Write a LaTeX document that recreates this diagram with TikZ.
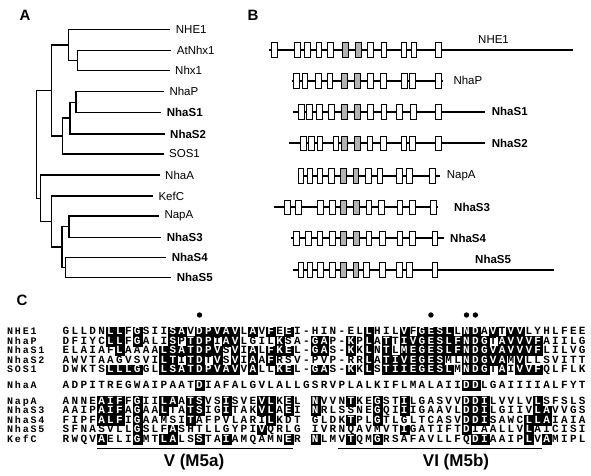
\documentclass[tikz,border=0pt]{standalone}
\usepackage{fontspec}
\setmainfont{Liberation Sans}
\setmonofont{Liberation Mono}
\usetikzlibrary{positioning}

% one aligned residue; lower case = white letter on black
\makeatletter
\newcount\rescol
\newcommand\alnres[1]{%
  \ifnum`#1>96
    \uppercase{\gdef\ucres{#1}}%
    \node[rescell,fill=black,draw=black,line width=.2pt,text=white] (\alnname-\the\rescol) at ({57.1+8.9*\the\rescol},\alny) {\ucres};%
  \else\if.#1\else
    \node[rescell] (\alnname-\the\rescol) at ({57.1+8.9*\the\rescol},\alny) {#1};%
  \fi\fi}
\newcommand\alnrow[3]{\def\alnname{#1}\def\alny{#2}\rescol=0
  \@tfor\res:=#3\do{\advance\rescol by 1 \expandafter\alnres\expandafter{\res}}}
\makeatother

% one topology row of panel B
\newcommand\tmrow[6]{%
  \draw[tmline] (#3,#2) -- (#4,#2);
  \foreach \bx [count=\k] in {#5} \node[tmbox] (#1w\k) at (\bx,#2) {};
  \foreach \bx [count=\k] in {#6} \node[tmbox,fill=gray!60] (#1g\k) at (\bx,#2) {};}

\begin{document}
\begin{tikzpicture}[x=1pt,y=-1pt,
    br/.style={line width=1.3pt},
    leaf/.style={anchor=west,inner sep=0pt,font=\fontsize{11.5}{12}\selectfont},
    bleaf/.style={leaf,font=\fontsize{11.5}{12}\selectfont\bfseries},
    panel/.style={font=\fontsize{15}{15}\selectfont\bfseries,inner sep=0pt},
    tmline/.style={line width=2pt},
    tmbox/.style={draw=black,line width=.9pt,fill=white,minimum width=5.8pt,minimum height=14.7pt,inner sep=0pt},
    rescell/.style={minimum width=8.9pt,minimum height=9.5pt,inner sep=0pt,text height=6.5pt,text depth=0pt,
      font=\ttfamily\bfseries\fontsize{11}{11}\selectfont},
    seqname/.style={anchor=west,inner sep=0pt,text height=6.5pt,text depth=0pt,
      font=\ttfamily\bfseries\fontsize{10}{10}\selectfont\addfontfeature{LetterSpace=18}},
    motif/.style={font=\fontsize{17}{17}\selectfont\bfseries,inner sep=0pt}]
\useasboundingbox (0,0) rectangle (591,476);

% panel letters
\node[panel] (pA) at (25,15) {A};
\node[panel] (pB) at (253,15) {B};
\node[panel] (pC) at (22,300) {C};

% A: tree
\node[leaf] (tNHE1) at (175.7,29.3) {NHE1};
\node[leaf] (tAtNhx1) at (176.7,50.7) {AtNhx1};
\node[leaf] (tNhx1) at (175,70.7) {Nhx1};
\node[leaf] (tNhaP) at (169.3,91.7) {NhaP};
\node[bleaf] (tNhaS1) at (166.7,112.7) {NhaS1};
\node[bleaf] (tNhaS2) at (170,134) {NhaS2};
\node[leaf] (tSOS1) at (169,154) {SOS1};
\node[leaf] (tNhaA) at (165,175) {NhaA};
\node[leaf] (tKefC) at (158.3,196) {KefC};
\node[leaf] (tNapA) at (164.3,216) {NapA};
\node[bleaf] (tNhaS3) at (166.7,237.3) {NhaS3};
\node[bleaf] (tNhaS4) at (171.7,257.3) {NhaS4};
\node[bleaf] (tNhaS5) at (176.7,277.7) {NhaS5};
\coordinate (iAt) at (77.3,60.7);
\coordinate (iNhe) at (68.3,45);
\coordinate (iP1) at (76,102.2);
\coordinate (iP2) at (70,118.1);
\coordinate (iP3) at (62.3,136);
\coordinate (iUp) at (51.7,90.5);
\coordinate (iNap) at (69,226.7);
\coordinate (iS45) at (65.7,267.5);
\coordinate (iE) at (62,247.1);
\coordinate (iKef) at (51.7,221.5);
\coordinate (iLow) at (40.7,198.3);
\coordinate (iRoot) at (36.7,144.4);
\draw[br] ([xshift=-5.5pt]tAtNhx1.west) -| (iAt) |- ([xshift=-5.5pt]tNhx1.west);
\draw[br] ([xshift=-5.5pt]tNHE1.west) -| (iNhe) |- (iAt);
\draw[br] ([xshift=-5.5pt]tNhaP.west) -| (iP1) |- ([xshift=-5.5pt]tNhaS1.west);
\draw[br] (iP1) -| (iP2) |- ([xshift=-5.5pt]tNhaS2.west);
\draw[br] (iP2) -| (iP3) |- ([xshift=-5.5pt]tSOS1.west);
\draw[br] (iNhe) -| (iUp) |- (iP3);
\draw[br] ([xshift=-5.5pt]tNapA.west) -| (iNap) |- ([xshift=-5.5pt]tNhaS3.west);
\draw[br] ([xshift=-5.5pt]tNhaS4.west) -| (iS45) |- ([xshift=-5.5pt]tNhaS5.west);
\draw[br] (iNap) -| (iE) |- (iS45);
\draw[br] ([xshift=-5.5pt]tKefC.west) -| (iKef) |- (iE);
\draw[br] ([xshift=-5.5pt]tNhaA.west) -| (iLow) |- (iKef);
\draw[br] (iUp) -| (iRoot) |- (iLow);

% B: membrane topology
\tmrow{bNHE1}{50}{269.3}{572.7}{274.7,297.3,307.3,319,330.7,370.7,384,404,414,438.7}{345.3,358.7}
\tmrow{bNhaP}{80.7}{291.7}{443}{296.7,305,318.3,330,370.7,383.3,404.3,412.7,438.3}{344.3,357.7}
\tmrow{bNhaS1}{111.7}{293.3}{485}{301.7,309.3,319.3,331.7,370.7,384,399.3,413.3,438.3}{344.3,357.7}
\tmrow{bNhaS2}{143.3}{289.3}{485}{303.3,311.7,320,336,370,383.3,404,412.7,438.3}{344.3,357.7}
\tmrow{bNapA}{176}{298.3}{440}{301,310,320,331.7,368.3,380,399.3,409.3,432.7}{343.3,356}
\tmrow{bNhaS3}{207.3}{274}{438.3}{287.3,298.3,320.7,332.7,369,381.7,400,412.7,433.3}{343.3,356.7}
\tmrow{bNhaS4}{238.3}{290.7}{444}{296.7,308.3,320,332.7,369,382.7,400,412.7,435}{343.3,356.7}
\tmrow{bNhaS5}{270}{293.3}{554}{301,310,320.7,332.7,366.7,382.7,399.3,409.3,435}{343.3,356}
\node[leaf] (lNHE1) at (478,39.3) {NHE1};
\node[leaf] (lNhaP) at (453.3,80.7) {NhaP};
\node[bleaf] (lNhaS1) at (491.7,111.7) {NhaS1};
\node[bleaf] (lNhaS2) at (491.7,143.3) {NhaS2};
\node[leaf] (lNapA) at (446.7,176) {NapA};
\node[bleaf] (lNhaS3) at (454,207.3) {NhaS3};
\node[bleaf] (lNhaS4) at (450,238.3) {NhaS4};
\node[bleaf] (lNhaS5) at (475,259.3) {NhaS5};

% C: alignment
\foreach \nm/\yy [count=\i] in {NHE1/331.5,NhaP/341,NhaS1/350.5,NhaS2/360,SOS1/369.5,NhaA/385,
    NapA/401,NhaS3/410.5,NhaS4/420,NhaS5/429.5,KefC/439}
  \node[seqname] (name\i) at (7,\yy) {\nm};
\alnrow{nhe}{331.5}{GLLDNllFgSIIsaVdpvavLaVfEeI-HIN-ELlHILvFgeslLndAvTvvLYHLFEE}
\alnrow{nhap}{341}{DFIYCllFgALIsPtdpIavLGILkSA-gaP-kPlAtTivgeslfndgTavvvfAIILG}
\alnrow{sa}{350.5}{ELAIAFlAAAAlsatdpvSvIaLfkeL-gaS-kKlNtLmegeslfndgvavvvfLILVG}
\alnrow{sb}{360}{AWVTAAGVSVIltItdTvSvIaAfRSV-PVP-RRlAtivegesMLndgvaMvLLSVITT}
\alnrow{sos}{369.5}{DWKTSlllgGLlsatdpvavVaLLkeL-gaS-kKlStiiegeslMndgTaIvvfQLFLK}
\alnrow{nhaa}{385}{ADPITREGWAIPAATdIAFALGVLALLGSRVPLALKIFLMALAIIddLGAIIIIALFYT}
\alnrow{napa}{401}{ANNEaifFgIIlaAtsVSiSVEvlKeL.nVVNtKEgSTiLGASVVddiLVVLVlSFSLS}
\alnrow{sc}{410.5}{AAIPaifAgAAlTAtsIGiTAKvlAeI.nRLSSNEgQIiIGAAVLddiLGIIVlaVVGS}
\alnrow{sd}{420}{FIPFalfIgAAMSItAFPVLARIlKDT.GLDKtPLgTLGLTCASVddiSAWCllaIAIA}
\alnrow{se}{429.5}{SFNASVLLgSLFaSHTLLGYPIvQRLG.IVRNQAVMVTiGATIFTdIAALLVlAICISI}
\alnrow{kef}{439}{RWQVaELIgMTlaLSsTAiAMQAMNeR.nLMVtQMgRSAFAVLLFQdiAAIPlVaMIPL}
\foreach \cc in {16,42,46,47}
  \fill ({57.1+8.9*\cc},315) circle (2.7);
\draw[line width=1.8pt] (97.2,448.5) -- (293,448.5);
\draw[line width=1.8pt] (337.5,448.5) -- (542,448.5);
\node[motif] (m5a) at (194,462.5) {V (M5a)};
\node[motif] (m5b) at (456,462.5) {VI (M5b)};
\end{tikzpicture}
\end{document}
